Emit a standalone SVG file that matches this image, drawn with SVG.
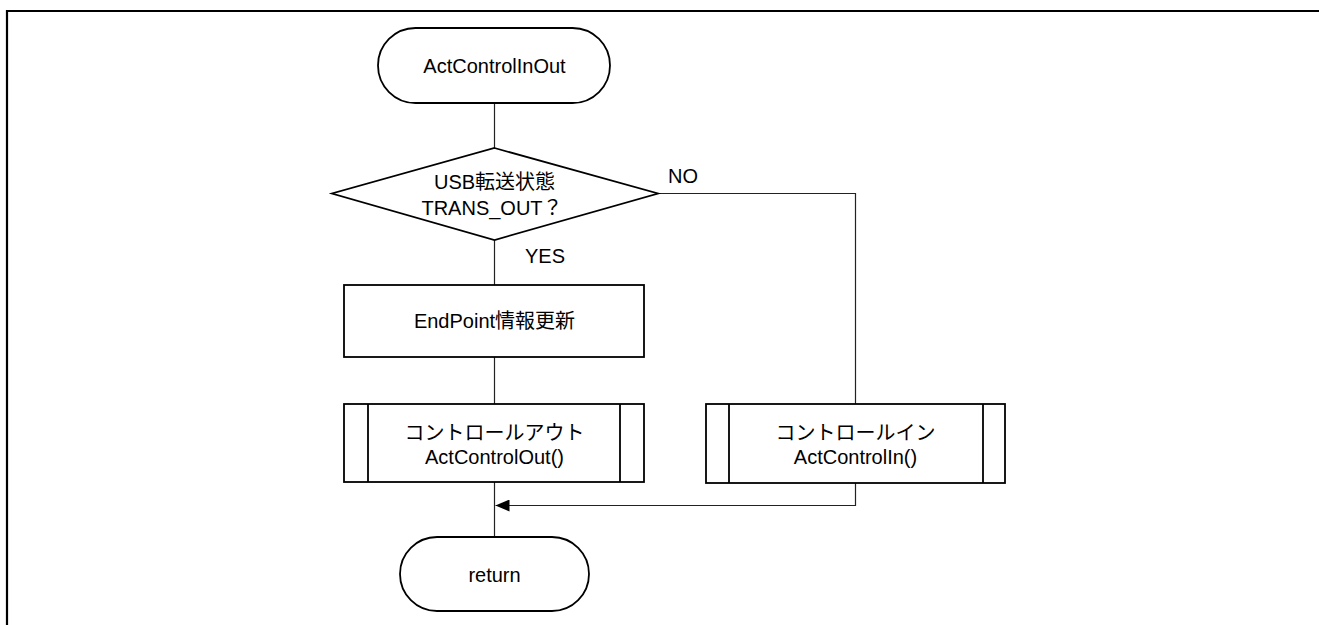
<svg xmlns="http://www.w3.org/2000/svg" width="1319" height="625" viewBox="0 0 1319 625">
  <style>
    .shape { fill: #fff; stroke: #000; stroke-width: 1.8; }
    .bar { fill: none; stroke: #000; stroke-width: 1.8; }
    .wire { fill: none; stroke: #222; stroke-width: 1.2; }
    .lbl { font-family: "Liberation Sans", Arial, "Noto Sans CJK JP", sans-serif; font-size: 20px; fill: #000; }
    .mid { text-anchor: middle; }
  </style>
  <defs>
    <marker id="arrow" viewBox="0 0 14 12" refX="14" refY="6" markerWidth="14" markerHeight="12" markerUnits="userSpaceOnUse" orient="auto">
      <path d="M0,0 L14,6 L0,12 Z" fill="#000"/>
    </marker>
  </defs>

  <!-- page frame -->
  <path d="M7,625 V11 H1319" fill="none" stroke="#000" stroke-width="2.2"/>

  <!-- connectors -->
  <g id="connectors">
    <path class="wire" d="M494.5,103 V148"/>
    <path class="wire" d="M494.5,240 V285"/>
    <path class="wire" d="M494.5,357 V404"/>
    <path class="wire" d="M494.5,482 V537"/>
    <path class="wire" d="M658,193.5 H855.5 V404"/>
    <path class="wire" d="M855.5,483 V505.5 H495.5" marker-end="url(#arrow)"/>
    <text class="lbl" x="525" y="263">YES</text>
    <text class="lbl" x="668" y="183">NO</text>
  </g>

  <g id="start">
    <rect class="shape" x="378" y="28" width="232" height="75" rx="37.5" ry="37.5"/>
    <text class="lbl mid" x="494.5" y="73">ActControlInOut</text>
  </g>

  <g id="check-trans-out">
    <polygon class="shape" points="494.5,148 658,193.5 494.5,240 332,193.5"/>
    <text class="lbl mid" x="494.5" y="189">USB転送状態</text>
    <text class="lbl mid" x="492" y="215">TRANS_OUT？</text>
  </g>

  <g id="update-endpoint">
    <rect class="shape" x="344" y="285" width="300" height="72"/>
    <text class="lbl mid" x="494.5" y="328">EndPoint情報更新</text>
  </g>

  <g id="control-out">
    <rect class="shape" x="344" y="404" width="300" height="78"/>
    <path class="bar" d="M368,404 V482 M620,404 V482"/>
    <text class="lbl mid" x="494.5" y="440">コントロールアウト</text>
    <text class="lbl mid" x="494.5" y="464">ActControlOut()</text>
  </g>

  <g id="control-in">
    <rect class="shape" x="706" y="404" width="299" height="79"/>
    <path class="bar" d="M729,404 V483 M983,404 V483"/>
    <text class="lbl mid" x="855.5" y="440">コントロールイン</text>
    <text class="lbl mid" x="855.5" y="464">ActControlIn()</text>
  </g>

  <g id="return">
    <rect class="shape" x="400" y="537" width="189" height="74" rx="37" ry="37"/>
    <text class="lbl mid" x="494.5" y="582">return</text>
  </g>
</svg>
